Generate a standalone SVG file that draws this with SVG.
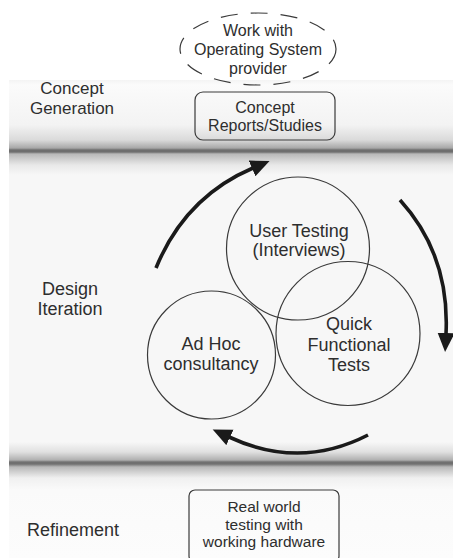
<svg xmlns="http://www.w3.org/2000/svg" width="453" height="558" viewBox="0 0 453 558">
<defs>
<linearGradient id="bands" gradientUnits="userSpaceOnUse" x1="0" y1="80" x2="0" y2="558">
<stop offset="0" stop-color="#f4f4f4"/>
<stop offset="0.01" stop-color="#fbfbfb"/>
<stop offset="0.0941" stop-color="#f3f3f3"/>
<stop offset="0.1255" stop-color="#dadada"/>
<stop offset="0.1423" stop-color="#a8a8a8"/>
<stop offset="0.1464" stop-color="#6e6e6e"/>
<stop offset="0.1506" stop-color="#6e6e6e"/>
<stop offset="0.1548" stop-color="#b8b8b8"/>
<stop offset="0.1778" stop-color="#e8e8e8"/>
<stop offset="0.1987" stop-color="#f7f7f7"/>
<stop offset="0.7573" stop-color="#f7f7f7"/>
<stop offset="0.7782" stop-color="#e0e0e0"/>
<stop offset="0.795" stop-color="#b0b0b0"/>
<stop offset="0.7992" stop-color="#707070"/>
<stop offset="0.8033" stop-color="#707070"/>
<stop offset="0.8096" stop-color="#b8b8b8"/>
<stop offset="0.8326" stop-color="#f0f0f0"/>
<stop offset="0.8577" stop-color="#fafafa"/>
<stop offset="1" stop-color="#fcfcfc"/>
</linearGradient>
<marker id="head" markerUnits="userSpaceOnUse" markerWidth="20" markerHeight="18" refX="1" refY="8.5" orient="auto">
<path d="M0,0 L19,8.5 L0,17 z" fill="#1a1a1a"/>
</marker>
<style>
text{font-family:"Liberation Sans",Arial,sans-serif;fill:#2e2e2e;text-anchor:middle}
.lbl{font-size:17px}
.big{font-size:18px}
.sm{font-size:16px}
.xs{font-size:15.5px}
.node{fill:none;stroke:#3a3a3a;stroke-width:1.2}
.arrow{fill:none;stroke:#1a1a1a;stroke-width:3.6;marker-end:url(#head)}
</style>
</defs>
<rect x="0" y="0" width="453" height="558" fill="#ffffff"/>
<rect x="9" y="80" width="444" height="478" fill="url(#bands)"/>

<g id="stage-labels">
<text class="lbl" x="72" y="94">Concept</text>
<text class="lbl" x="72" y="114">Generation</text>
<text class="big" x="70" y="295">Design</text>
<text class="big" x="70" y="315">Iteration</text>
<text class="big" x="73" y="536">Refinement</text>
</g>

<g id="os-provider">
<ellipse class="node" cx="258" cy="49" rx="78" ry="36" stroke-dasharray="17 13" stroke-width="1.3"/>
<text class="sm" x="258" y="36">Work with</text>
<text class="sm" x="258" y="55">Operating System</text>
<text class="sm" x="258" y="74">provider</text>
</g>

<g id="concept-reports">
<rect class="node" x="195" y="92" width="140" height="48" rx="8"/>
<text class="sm" x="265" y="113">Concept</text>
<text class="sm" x="265" y="131">Reports/Studies</text>
</g>

<g id="user-testing">
<circle class="node" cx="298" cy="248.5" r="71.5"/>
<text class="big" x="299" y="237">User Testing</text>
<text class="big" x="299" y="256">(Interviews)</text>
</g>

<g id="quick-tests">
<circle class="node" cx="348" cy="333.5" r="72"/>
<text class="big" x="349" y="330">Quick</text>
<text class="big" x="349" y="351">Functional</text>
<text class="big" x="349" y="371">Tests</text>
</g>

<g id="ad-hoc">
<circle class="node" cx="211.5" cy="355" r="64"/>
<text class="big" x="211" y="350">Ad Hoc</text>
<text class="big" x="211" y="370">consultancy</text>
</g>

<g id="real-world">
<rect class="node" x="189" y="490" width="150" height="72" rx="6"/>
<text class="xs" x="264" y="512">Real world</text>
<text class="xs" x="264" y="530">testing with</text>
<text class="xs" x="264" y="547">working hardware</text>
</g>

<g id="connectors">
<path class="arrow" d="M156,268 Q185,197 253,168"/>
<path class="arrow" d="M400,200 Q450,255 446,334"/>
<path class="arrow" d="M368,435 Q300,470 229,437"/>
</g>
</svg>
